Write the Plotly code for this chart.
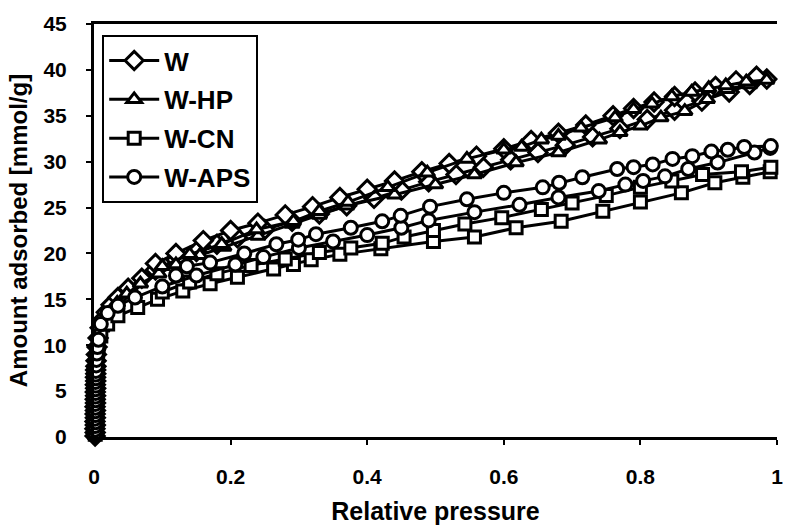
import plotly.graph_objects as go

# ---------------- data ----------------
# W (diamond)
w_ads_p = [0.0016, 0.0018, 0.0014, 0.0019, 0.0015, 0.0020, 0.0017, 0.0021, 0.0016, 0.0022, 0.0018, 0.0023,
           0.0019, 0.0024, 0.0020, 0.0025, 0.0022, 0.0026, 0.0024, 0.0028, 0.0030, 0.0035, 0.0045,
           0.006, 0.009, 0.013, 0.018, 0.025, 0.035, 0.05, 0.07, 0.09, 0.12, 0.15, 0.18, 0.21, 0.25, 0.29,
           0.33, 0.37, 0.41, 0.45, 0.49, 0.53, 0.57, 0.61, 0.65, 0.69, 0.73, 0.77, 0.81, 0.85, 0.89, 0.93,
           0.96, 0.985]
w_ads_q = [0.1, 0.5, 0.9, 1.3, 1.7, 2.1, 2.5, 2.9, 3.3, 3.7, 4.1, 4.5,
           4.9, 5.3, 5.7, 6.1, 6.5, 6.9, 7.3, 7.7, 8.3, 9.0, 9.8,
           10.8, 11.9, 12.8, 13.6, 14.4, 15.2, 16.2, 17.3, 18.2, 19.3, 20.2, 21.0, 21.7, 22.6, 23.5,
           24.3, 25.2, 26.0, 26.9, 27.8, 28.6, 29.4, 30.2, 31.0, 31.8, 32.7, 33.6, 34.6, 35.6, 36.6, 37.6,
           38.4, 39.0]
w_des_p = [0.97, 0.94, 0.91, 0.88, 0.85, 0.82, 0.79, 0.76, 0.72, 0.68, 0.64, 0.60, 0.56, 0.52, 0.48,
           0.44, 0.40, 0.36, 0.32, 0.28, 0.24, 0.20, 0.16, 0.12, 0.09]
w_des_q = [39.3, 38.8, 38.2, 37.6, 37.1, 36.5, 35.8, 35.0, 34.0, 33.1, 32.3, 31.4, 30.6, 29.8, 28.9,
           27.9, 27.0, 26.1, 25.1, 24.2, 23.3, 22.5, 21.4, 20.0, 18.9]

# W-HP (triangle)
hp_ads_p = [0.0017, 0.0013, 0.0019, 0.0015, 0.0021, 0.0016, 0.0020, 0.0018, 0.0022, 0.0017, 0.0023, 0.0019,
            0.0024, 0.0020, 0.0025, 0.0021, 0.0027, 0.0023, 0.0029, 0.0032, 0.0040, 0.0055,
            0.008, 0.012, 0.017, 0.024, 0.034, 0.048, 0.068, 0.095, 0.12, 0.155, 0.19, 0.24, 0.29, 0.33,
            0.37, 0.44, 0.50, 0.557, 0.618, 0.68, 0.74, 0.77, 0.80, 0.83, 0.865, 0.898, 0.927, 0.96, 0.985]
hp_ads_q = [0.2, 0.6, 1.0, 1.4, 1.8, 2.2, 2.6, 3.0, 3.4, 3.8, 4.2, 4.6,
            5.0, 5.4, 5.8, 6.2, 6.6, 7.0, 7.5, 8.1, 8.9, 9.8,
            10.9, 11.9, 12.8, 13.7, 14.6, 15.6, 16.7, 17.8, 18.8, 19.8, 20.7, 21.9, 23.2, 24.2,
            25.2, 26.4, 27.5, 28.6, 29.9, 31.0, 32.4, 33.2, 33.9, 34.8, 35.5, 36.8, 37.9, 38.4, 38.9]
hp_des_p = [0.955, 0.925, 0.9, 0.875, 0.846, 0.817, 0.79, 0.763, 0.713, 0.68, 0.655, 0.626, 0.60, 0.546,
            0.488, 0.43, 0.372, 0.33, 0.292, 0.238, 0.187, 0.14, 0.10]
hp_des_q = [38.7, 38.3, 38.0, 37.6, 37.1, 36.3, 35.7, 34.8, 33.7, 32.8, 32.4, 31.6, 31.3, 30.3,
            28.8, 27.2, 25.6, 24.6, 23.5, 22.6, 21.0, 19.9, 18.6]

# W-CN (square)
cn_ads_p = [0.0018, 0.0014, 0.0020, 0.0016, 0.0019, 0.0015, 0.0021, 0.0017, 0.0022, 0.0018, 0.0023, 0.0019,
            0.0024, 0.0020, 0.0025, 0.0022, 0.0027, 0.0024, 0.0030, 0.0036, 0.0045, 0.006,
            0.010, 0.02, 0.035, 0.064, 0.093, 0.13, 0.17, 0.21, 0.263, 0.292, 0.318, 0.36, 0.42, 0.497,
            0.557, 0.618, 0.684, 0.745, 0.80, 0.86, 0.909, 0.95, 0.99]
cn_ads_q = [0.3, 0.7, 1.1, 1.5, 1.9, 2.3, 2.7, 3.1, 3.5, 3.9, 4.3, 4.7,
            5.1, 5.5, 5.9, 6.3, 6.7, 7.1, 7.6, 8.2, 8.9, 9.7,
            11.0, 12.3, 13.2, 14.1, 15.0, 15.9, 16.7, 17.4, 18.3, 18.8, 19.3, 19.9, 20.5, 21.3,
            21.8, 22.8, 23.5, 24.6, 25.6, 26.6, 27.7, 28.3, 28.9]
cn_des_p = [0.991, 0.948, 0.891, 0.846, 0.80, 0.75, 0.70, 0.655, 0.597, 0.543, 0.497, 0.454, 0.422,
            0.376, 0.33, 0.28, 0.23, 0.18, 0.14, 0.10]
cn_des_q = [29.4, 28.9, 28.6, 27.9, 27.2, 26.3, 25.5, 24.8, 23.9, 23.2, 22.5, 21.8, 21.1,
            20.6, 20.1, 19.4, 18.7, 17.8, 16.9, 15.8]

# W-APS (circle)
aps_ads_p = [0.0015, 0.0019, 0.0016, 0.0020, 0.0014, 0.0021, 0.0017, 0.0022, 0.0018, 0.0023, 0.0019, 0.0024,
             0.0020, 0.0025, 0.0021, 0.0026, 0.0023, 0.0028, 0.0031, 0.0035, 0.0042, 0.0050,
             0.0065, 0.010, 0.02, 0.035, 0.06, 0.10, 0.15, 0.207, 0.248, 0.30, 0.35, 0.40, 0.45, 0.49,
             0.557, 0.623, 0.68, 0.739, 0.778, 0.804, 0.836, 0.87, 0.913, 0.967, 0.99]
aps_ads_q = [0.4, 0.8, 1.2, 1.6, 2.0, 2.4, 2.8, 3.2, 3.6, 4.0, 4.4, 4.8,
             5.2, 5.6, 6.0, 6.4, 6.8, 7.2, 7.8, 8.4, 9.1, 9.8,
             10.6, 12.3, 13.5, 14.3, 15.2, 16.4, 17.6, 18.8, 19.6, 20.6, 21.3, 22.0, 22.8, 23.6,
             24.5, 25.3, 26.1, 26.8, 27.5, 27.9, 28.4, 29.2, 29.9, 31.0, 31.5]
aps_des_p = [0.991, 0.952, 0.928, 0.904, 0.876, 0.847, 0.818, 0.79, 0.766, 0.715, 0.681, 0.657, 0.60,
             0.546, 0.492, 0.449, 0.422, 0.376, 0.325, 0.299, 0.267, 0.22, 0.17, 0.136, 0.12]
aps_des_q = [31.7, 31.6, 31.3, 31.1, 30.6, 30.3, 29.7, 29.4, 29.2, 28.3, 27.7, 27.2, 26.6,
             25.9, 25.1, 24.1, 23.5, 22.8, 22.1, 21.5, 21.0, 20.0, 19.0, 18.6, 17.6]

names = ["W", "W-HP", "W-CN", "W-APS"]
symbols = ["diamond", "triangle-up", "square", "circle"]
sizes = [14, 13, 12, 13]
series = [
    (w_ads_p, w_ads_q, w_des_p, w_des_q),
    (hp_ads_p, hp_ads_q, hp_des_p, hp_des_q),
    (cn_ads_p, cn_ads_q, cn_des_p, cn_des_q),
    (aps_ads_p, aps_ads_q, aps_des_p, aps_des_q),
]

FONT = "Liberation Sans, Arial, sans-serif"

fig = go.Figure()
for i, (name, sym, sz, (ap, aq, dp, dq)) in enumerate(zip(names, symbols, sizes, series)):
    fig.add_trace(go.Scatter(
        x=list(ap) + list(dp), y=list(aq) + list(dq),
        mode="lines+markers", name=name, legendgroup=name,
        line=dict(color="black", width=3),
        marker=dict(symbol=sym, size=sz, color="white", line=dict(color="black", width=3)),
        cliponaxis=False,
    ))

fig.update_layout(
    width=790, height=530,
    margin=dict(l=94, r=7, t=24, b=93),
    paper_bgcolor="white", plot_bgcolor="white",
    font=dict(family=FONT, color="black", size=21),
    showlegend=True,
    legend=dict(
        x=0.012, y=0.973, xanchor="left", yanchor="top",
        bgcolor="white", bordercolor="black", borderwidth=2,
        font=dict(family=FONT, size=26, color="black", weight="bold"),
        tracegroupgap=2, traceorder="grouped", itemwidth=50,
    ),
)
fig.update_xaxes(
    range=[0, 1], tickvals=[0, 0.2, 0.4, 0.6, 0.8, 1], ticktext=["0", "0.2", "0.4", "0.6", "0.8", "1"],
    showgrid=False, zeroline=False, showline=True, linecolor="black", linewidth=3, mirror=True,
    ticks="outside", ticklen=5, tickwidth=2, tickcolor="black", ticklabelstandoff=14,
    tickfont=dict(family=FONT, size=21, weight="bold"),
    title=dict(text="Relative pressure", font=dict(family=FONT, size=25, weight="bold"), standoff=16),
)
fig.update_yaxes(
    range=[0, 45], tickvals=list(range(0, 46, 5)),
    showgrid=False, zeroline=False, showline=True, linecolor="black", linewidth=3,
    ticks="outside", ticklen=5, tickwidth=2, tickcolor="black", ticklabelstandoff=15,
    tickfont=dict(family=FONT, size=21, weight="bold"),
    title=dict(text="Amount adsorbed [mmol/g]", font=dict(family=FONT, size=24, weight="bold"), standoff=10),
)

fig.write_html("out.html")
